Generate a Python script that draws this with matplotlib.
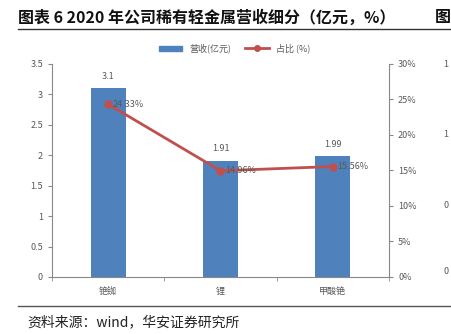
import matplotlib
matplotlib.use("Agg")
import matplotlib.pyplot as plt
import numpy as np
from matplotlib.lines import Line2D
from matplotlib.patches import Patch

plt.rcParams['font.family'] = ['Noto Sans CJK SC', 'DejaVu Sans']

categories = ["铯铷", "锂", "甲酸铯"]
revenue = [3.1, 1.91, 1.99]
share = [24.33, 14.96, 15.56]
left_ticks = [0, 0.5, 1, 1.5, 2, 2.5, 3, 3.5]
right_ticks = [0, 5, 10, 15, 20, 25, 30]

BAR = '#4F81BD'
LINE = '#C0504D'
GREY = '#595959'

fig = plt.figure(figsize=(4.51, 3.34), dpi=100)
ax = fig.add_axes([0.1153, 0.1707, 0.7472, 0.6377])
ax2 = ax.twinx()

x = np.arange(len(categories))
bars = ax.bar(x, revenue, width=0.31, color=BAR, zorder=2)
for b, v in zip(bars, revenue):
    ax.text(b.get_x() + b.get_width() / 2, v + 0.12, f"{v:g}",
            ha='center', va='bottom', fontsize=6.5, color=GREY)

ax2.plot(x, share, color=LINE, lw=2, marker='o', ms=5, zorder=3)
for xi, s in zip(x, share):
    ax2.text(xi + 0.04, s, f"{s:.2f}%", ha='left', va='center',
             fontsize=6.5, color=GREY, zorder=4)

ax.set_xlim(-0.5, 2.5)
ax.set_ylim(0, 3.5)
ax.set_yticks(left_ticks)
ax.set_yticklabels([f"{t:g}" for t in left_ticks])
ax2.set_ylim(0, 30)
ax2.set_yticks(right_ticks)
ax2.set_yticklabels([f"{t}%" for t in right_ticks])
ax.set_xticks(x)
ax.set_xticklabels(categories)
ax.set_xticks([-0.5, 0.5, 1.5, 2.5], minor=True)
ax.tick_params(axis='x', which='major', length=0, pad=7, labelsize=6.5, labelcolor=GREY)
ax.tick_params(axis='x', which='minor', length=3, color='#888888')
ax.tick_params(axis='y', labelsize=6.5, labelcolor=GREY, length=3, color='#888888')
ax2.tick_params(axis='y', labelsize=6.5, labelcolor=GREY, length=3, color='#888888')

for a in (ax, ax2):
    a.spines['top'].set_visible(False)
    for s in ('left', 'right', 'bottom'):
        a.spines[s].set_color('#888888')
        a.spines[s].set_linewidth(0.8)
ax.spines['right'].set_visible(False)
ax2.spines['left'].set_visible(False)
ax2.spines['bottom'].set_visible(False)

# legend
handles = [Patch(color=BAR, label="营收(亿元)"),
           Line2D([], [], color=LINE, lw=2, marker='o', ms=4, label="占比 (%)")]
fig.legend(handles=handles, loc='center', bbox_to_anchor=(0.52, 0.855), ncol=2,
           frameon=False, fontsize=6.5, labelcolor=GREY, handlelength=2.6,
           handleheight=0.5, columnspacing=1.5)

# title and source
fig.text(0.04, 0.948, "图表 6 2020 年公司稀有轻金属营收细分（亿元，%）",
         fontsize=11.5, fontweight='bold', color='#111111', va='center')
fig.text(0.965, 0.948, "图", fontsize=11.5, fontweight='bold', color='#111111', va='center')
fig.add_artist(Line2D([0.04, 1.0], [0.913, 0.913], color='#333333', lw=1))
fig.add_artist(Line2D([0.04, 1.0], [0.084, 0.084], color='#555555', lw=1))
fig.text(0.06, 0.036, "资料来源：wind，华安证券研究所", fontsize=10, color='#222222', va='center')

# clipped neighbour chart labels at right edge
for yy, t in [(0.808, "1"), (0.596, "1"), (0.386, "0"), (0.186, "0")]:
    fig.text(0.983, yy, t, fontsize=6.5, color=GREY, va='center')

fig.savefig("out.png", dpi=100)
